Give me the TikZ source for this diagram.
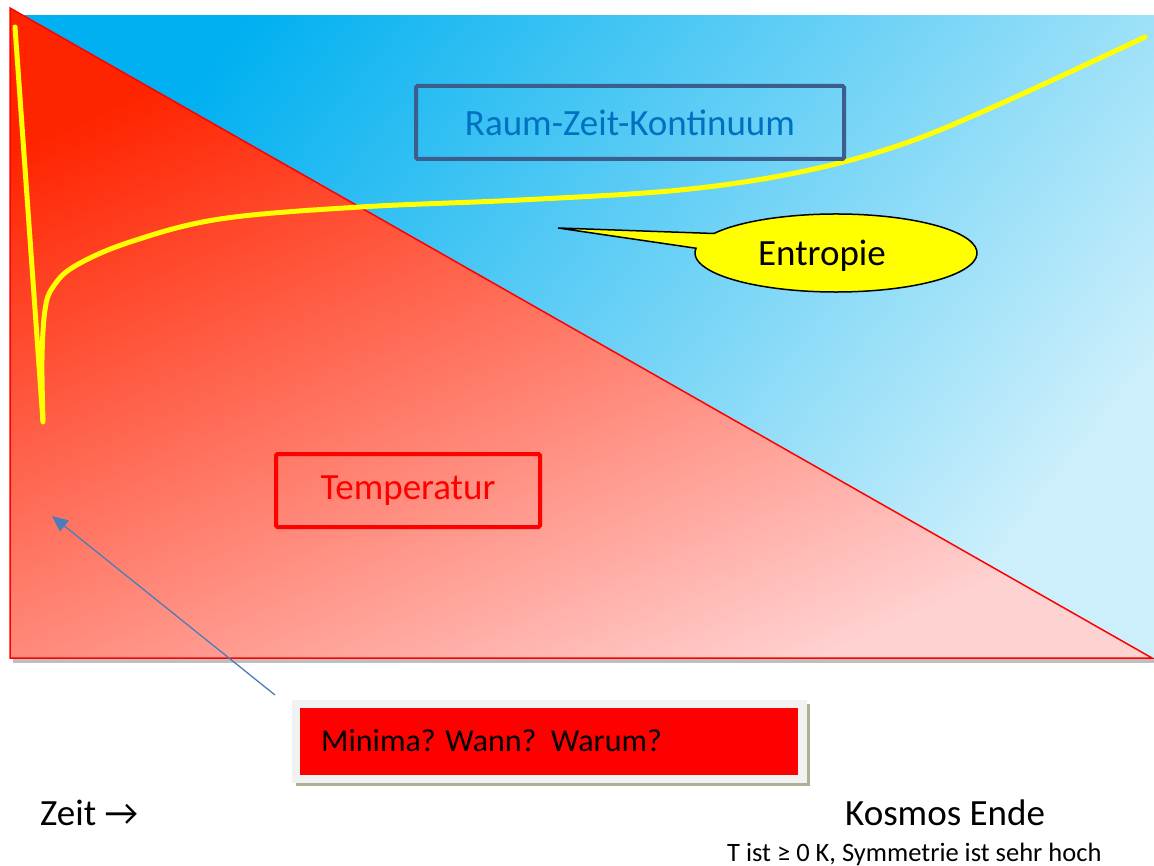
\documentclass[tikz,border=0pt]{standalone}
\usepackage{fontspec}
\setmainfont{Carlito}
\usetikzlibrary{arrows.meta}
\definecolor{skyA}{HTML}{00B0F0}
\definecolor{skyB}{HTML}{CCEFFB}
\definecolor{redA}{HTML}{FF2400}
\definecolor{redB}{HTML}{FFD2D2}
\definecolor{rzborder}{HTML}{3B5E8C}
\definecolor{rztext}{HTML}{0070C0}
\definecolor{arrowblue}{HTML}{4A7EBB}
\definecolor{boxgray}{HTML}{F2F2F2}
\definecolor{boxshadow}{HTML}{A9B296}
\definecolor{entyellow}{HTML}{FFFF00}
\tikzset{
  lbl/.style={font=\fontsize{37}{44}\selectfont, inner sep=0pt},
  framebox/.style={line width=4pt, rounded corners=1.5pt, inner sep=0pt},
}
\begin{document}
\begin{tikzpicture}[x=1pt,y=-1pt]
\useasboundingbox (0,0) rectangle (1154,866);
% background shadow
\fill[black!25] (13,19) rectangle (1157,663);
% blue rectangle
\shade[left color=skyA, right color=skyB, shading angle=52] (10,16) rectangle (1154,658);
% red triangle
\shade[left color=redA, right color=redB, shading angle=24] (10,8) -- (10,658) -- (1152,658) -- cycle;
\draw[red, line width=1.5pt, line join=miter] (10,8) -- (10,658) -- (1152,658) -- cycle;
% yellow entropy curve
\draw[entyellow, line width=5pt, line cap=round, line join=round] (15,27) -- (43,422);
\draw[entyellow, line width=5pt, line cap=round] plot[smooth, tension=0.6] coordinates {(43,420) (42,360) (45,310) (53,287) (75,266) (130,242) (220,219) (360,207) (520,200) (680,190) (800,172) (900,145) (1000,104) (1145,37)};
% boxes
\node[framebox, draw=rzborder, minimum width=428pt, minimum height=73pt, lbl, text=rztext] (rzk) at (630,122.5) {Raum-Zeit-Kontinuum};
\node[framebox, draw=red, minimum width=264pt, minimum height=73pt, lbl, text=red] (temp) at (408,490.5) {Temperatur};
% Entropie callout
\coordinate (tail) at (558,228);
\filldraw[fill=entyellow, draw=black, line width=1.5pt] (tail) -- (713.9,233.5) arc[start angle=210, end angle=547, x radius=141, y radius=39] -- cycle;
\node[lbl, text=black] (ent) at (822,256) {Entropie};
% Minima box
\fill[boxshadow] (296,704) rectangle (810,786);
\node[fill=boxgray, minimum width=515pt, minimum height=83pt, inner sep=0pt, anchor=north west] (minout) at (292,700) {};
\node[fill=red, minimum width=498pt, minimum height=67pt, inner sep=0pt, anchor=north west] (mininner) at (300,708) {};
\node[font=\fontsize{32}{38}\selectfont, inner sep=0pt, anchor=west, text=black] (mintext) at (321,741) {Minima? Wann?\ \ Warum?};
% arrow
\coordinate (arrstart) at (275,695);
\coordinate (arrend) at (52,516);
\draw[arrowblue, line width=1.3pt, -{Triangle[length=16pt, width=14pt]}] (arrstart) -- (arrend);
% bottom texts
\node[lbl, anchor=base west] (zeit) at (40,825) {Zeit →};
\node[lbl, anchor=base west] (ende) at (845,825) {Kosmos Ende};
\node[font=\fontsize{26.5}{32}\selectfont, inner sep=0pt, anchor=base west] (sym) at (727,861) {T ist ≥ 0 K, Symmetrie ist sehr hoch};
\end{tikzpicture}
\end{document}
